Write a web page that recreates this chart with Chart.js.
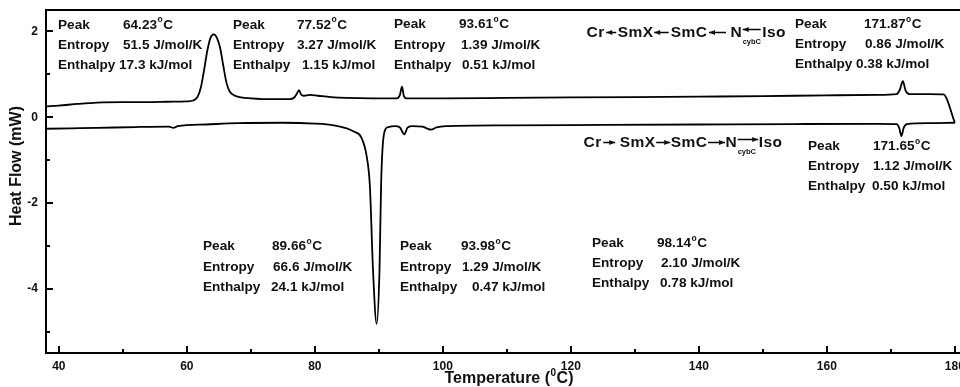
<!DOCTYPE html>
<html>
<head>
<meta charset="utf-8">
<script src="https://cdn.jsdelivr.net/npm/chart.js@4.4.1/dist/chart.umd.min.js"></script>
<style>
  html, body { margin: 0; padding: 0; background: #fff; }
  canvas { display: block; }
</style>
</head>
<body>
<canvas id="dsc" width="960" height="387"></canvas>
<script>
// DSC thermogram: cooling run (exotherms up) and heating run (endotherms down)
const coolingTemp = [38.0, 40.0, 43.0, 46.0, 50.0, 54.0, 57.0, 60.0, 61.0, 61.7, 62.2, 62.7, 63.2, 63.7, 64.23, 64.7, 65.2, 65.7, 66.2, 66.7, 67.3, 68.5, 70.0, 73.0, 76.0, 76.8, 77.2, 77.52, 77.85, 78.3, 79.2, 80.5, 82.5, 85.0, 89.0, 92.8, 93.3, 93.61, 93.9, 94.3, 100, 110, 120, 130, 140, 150, 160, 168, 170.9, 171.4, 171.87, 172.3, 172.9, 176, 178.2, 180];
const coolingFlow = [0.25, 0.27, 0.31, 0.34, 0.35, 0.35, 0.36, 0.37, 0.39, 0.48, 0.70, 1.10, 1.55, 1.85, 1.93, 1.85, 1.62, 1.20, 0.80, 0.60, 0.52, 0.46, 0.44, 0.42, 0.42, 0.46, 0.55, 0.63, 0.53, 0.50, 0.52, 0.50, 0.47, 0.45, 0.44, 0.44, 0.52, 0.71, 0.50, 0.44, 0.44, 0.45, 0.46, 0.47, 0.48, 0.49, 0.51, 0.52, 0.54, 0.64, 0.84, 0.62, 0.54, 0.54, 0.53, -0.13];

const heatingTemp = [38.0, 42, 46, 52, 57.2, 57.9, 58.6, 63, 68, 75, 80, 83, 85, 86, 87.3, 88.1, 88.6, 89.1, 89.66, 90.1, 90.35, 90.6, 91.0, 91.5, 92.5, 93.3, 93.98, 94.5, 95.3, 96.8, 97.5, 98.14, 99, 100.5, 110, 125, 140, 155, 168, 170.9, 171.3, 171.65, 172.0, 172.5, 176, 180];
const heatingFlow = [-0.27, -0.26, -0.25, -0.23, -0.22, -0.25, -0.21, -0.17, -0.14, -0.13, -0.15, -0.19, -0.26, -0.33, -0.48, -0.91, -1.6, -3.6, -4.82, -3.6, -1.6, -0.68, -0.29, -0.23, -0.21, -0.24, -0.40, -0.24, -0.21, -0.22, -0.26, -0.29, -0.24, -0.21, -0.19, -0.18, -0.17, -0.16, -0.155, -0.16, -0.25, -0.44, -0.25, -0.16, -0.14, -0.13];

const tempTicks = [40, 60, 80, 100, 120, 140, 160, 180];
const flowTicks = [-4, -2, 0, 2];

// Transition parameters
const coolPeakTemp = [64.23, 77.52, 93.61, 171.87];
const coolEntropy = ['51.5', '3.27', '1.39', '0.86'];
const coolEnthalpy = ['17.3', '1.15', '0.51', '0.38'];
const heatPeakTemp = [89.66, 93.98, 98.14, 171.65];
const heatEntropy = ['66.6', '1.29', '2.10', '1.12'];
const heatEnthalpy = ['24.1', '0.47', '0.78', '0.50'];
const phases = ['Cr', 'SmX', 'SmC', 'N', 'Iso'];

// Text block placement (pixels): label column x, value column x per row, row centres
const coolBlocks = [
  { lx: 58,  vx: [123, 123, 119], ry: [25, 45.5, 65.5] },
  { lx: 233, vx: [297, 297, 302], ry: [25, 45.5, 65.5] },
  { lx: 394, vx: [459, 461, 462], ry: [24.5, 45, 65] },
  { lx: 795, vx: [864, 865, 856], ry: [24.5, 44.5, 64.5] }
];
const heatBlocks = [
  { lx: 203, vx: [272, 273, 271], ry: [246.5, 267, 287] },
  { lx: 400, vx: [461, 462, 472], ry: [246.5, 267, 287] },
  { lx: 592, vx: [657, 661, 660], ry: [243.5, 263.5, 283.5] },
  { lx: 808, vx: [873, 873, 872], ry: [146.5, 166.5, 186.5] }
];

const FONT = '"Liberation Sans", Arial, Helvetica, sans-serif';
const INK = '#111';

function toPoints(xs, ys) { return xs.map((x, i) => ({ x: x, y: ys[i] })); }

function drawTemp(ctx, x, y, t) {
  const s = t.toFixed(2);
  ctx.font = 'bold 13.6px ' + FONT;
  ctx.fillText(s, x, y);
  const w = ctx.measureText(s).width;
  ctx.font = 'bold 8.5px ' + FONT;
  ctx.fillText('o', x + w + 0.5, y - 5);
  const ow = ctx.measureText('o').width;
  ctx.font = 'bold 13.6px ' + FONT;
  ctx.fillText('C', x + w + ow + 1, y);
}

function drawBlock(ctx, b, t, s, h) {
  ctx.font = 'bold 13.6px ' + FONT;
  ctx.fillText('Peak', b.lx, b.ry[0]);
  ctx.fillText('Entropy', b.lx, b.ry[1]);
  ctx.fillText('Enthalpy', b.lx, b.ry[2]);
  drawTemp(ctx, b.vx[0], b.ry[0], t);
  ctx.font = 'bold 13.6px ' + FONT;
  ctx.fillText(s + ' J/mol/K', b.vx[1], b.ry[1]);
  ctx.fillText(h + ' kJ/mol', b.vx[2], b.ry[2]);
}

function drawArrow(ctx, x0, x1, y, pointLeft) {
  ctx.beginPath();
  ctx.lineWidth = 1.5;
  ctx.moveTo(x0, y);
  ctx.lineTo(x1, y);
  ctx.stroke();
  const tip = pointLeft ? x0 : x1;
  const dir = pointLeft ? 1 : -1;
  ctx.beginPath();
  ctx.moveTo(tip, y);
  ctx.lineTo(tip + dir * 6, y - 2.6);
  ctx.lineTo(tip + dir * 6, y + 2.6);
  ctx.closePath();
  ctx.fill();
}

// connectors: [space after phase, arrow start offset, arrow end offset]
function drawScheme(ctx, x0, y, connectors, pointLeft) {
  let x = x0;
  ctx.letterSpacing = '0.5px';
  phases.forEach((p, i) => {
    ctx.font = 'bold 15.5px ' + FONT;
    ctx.fillText(p, x, y);
    x += ctx.measureText(p).width;
    if (i < phases.length - 1) {
      const c = connectors[i];
      const sub = p === 'N';
      drawArrow(ctx, x + c[1], x + c[2], sub ? y - 3 : y, pointLeft);
      if (sub) {
        ctx.font = 'bold 7.5px ' + FONT;
        ctx.letterSpacing = '0px';
        ctx.fillText('cybC', x + 0.5, y + 9.5);
        ctx.letterSpacing = '0.5px';
      }
      x += c[0];
    }
  });
  ctx.letterSpacing = '0px';
}

const decor = {
  id: 'decor',
  beforeDraw(chart) {
    const ctx = chart.ctx;
    ctx.save();
    ctx.fillStyle = '#fff';
    ctx.fillRect(0, 0, chart.width, chart.height);
    ctx.restore();
  },
  afterDraw(chart) {
    const { ctx, chartArea: a, scales } = chart;
    const xs = scales.x, ys = scales.y;
    ctx.save();
    ctx.strokeStyle = '#000';
    ctx.fillStyle = INK;

    // frame top edge
    ctx.lineWidth = 2;
    ctx.beginPath();
    ctx.moveTo(a.left - 1, a.top);
    ctx.lineTo(a.right, a.top);
    ctx.stroke();

    // inward tick marks, major and minor
    ctx.lineWidth = 2;
    tempTicks.forEach(v => {
      const px = Math.round(xs.getPixelForValue(v));
      ctx.beginPath(); ctx.moveTo(px, a.bottom); ctx.lineTo(px, a.bottom - 7); ctx.stroke();
      const m = v + 10;
      if (m < xs.max) {
        const pm = Math.round(xs.getPixelForValue(m));
        ctx.beginPath(); ctx.moveTo(pm, a.bottom); ctx.lineTo(pm, a.bottom - 4); ctx.stroke();
      }
    });
    flowTicks.forEach(v => {
      const py = Math.round(ys.getPixelForValue(v));
      ctx.beginPath(); ctx.moveTo(a.left, py); ctx.lineTo(a.left + 7, py); ctx.stroke();
      const m = v - 1;
      if (m > ys.min) {
        const pm = Math.round(ys.getPixelForValue(m));
        ctx.beginPath(); ctx.moveTo(a.left, pm); ctx.lineTo(a.left + 4, pm); ctx.stroke();
      }
    });
    const topMinor = flowTicks[flowTicks.length - 1] + 1;
    if (topMinor < ys.max) {
      const pm = Math.round(ys.getPixelForValue(topMinor));
      ctx.beginPath(); ctx.moveTo(a.left, pm); ctx.lineTo(a.left + 4, pm); ctx.stroke();
    }

    // axis titles
    ctx.textBaseline = 'middle';
    ctx.textAlign = 'left';
    ctx.font = 'bold 16px ' + FONT;
    const t1 = 'Temperature (', t3 = 'C)';
    const w1 = ctx.measureText(t1).width, w3 = ctx.measureText(t3).width;
    ctx.font = 'bold 10px ' + FONT;
    const w2 = ctx.measureText('0').width;
    let tx = 509 - (w1 + w2 + w3 + 1) / 2;
    ctx.font = 'bold 16px ' + FONT;
    ctx.fillText(t1, tx, 379);
    ctx.font = 'bold 10px ' + FONT;
    ctx.fillText('0', tx + w1 + 0.5, 373);
    ctx.font = 'bold 16px ' + FONT;
    ctx.fillText(t3, tx + w1 + w2 + 1, 379);

    ctx.save();
    ctx.translate(17, 166);
    ctx.rotate(-Math.PI / 2);
    ctx.textAlign = 'center';
    ctx.fillText('Heat Flow (mW)', 0, 0);
    ctx.restore();

    // transition annotations
    ctx.textAlign = 'left';
    ctx.textBaseline = 'middle';
    coolBlocks.forEach((b, i) => drawBlock(ctx, b, coolPeakTemp[i], coolEntropy[i], coolEnthalpy[i]));
    heatBlocks.forEach((b, i) => drawBlock(ctx, b, heatPeakTemp[i], heatEntropy[i], heatEnthalpy[i]));

    // phase sequences
    drawScheme(ctx, 586.5, 32.5, [[13, 1.5, 11.5], [17, 0.5, 15], [23, 1.5, 18.5], [20, 0.5, 18.5]], true);
    drawScheme(ctx, 583.5, 142.5, [[18, 1.5, 13.5], [15, 0.5, 14.5], [18, 0.5, 17.5], [21.5, 0.5, 21]], false);

    ctx.restore();
  }
};

new Chart(document.getElementById('dsc'), {
  type: 'line',
  data: {
    datasets: [
      {
        label: 'Heating',
        data: toPoints(heatingTemp, heatingFlow),
        borderColor: '#000',
        borderWidth: 1.8,
        pointRadius: 0,
        cubicInterpolationMode: 'monotone',
        fill: false
      },
      {
        label: 'Cooling',
        data: toPoints(coolingTemp, coolingFlow),
        borderColor: '#000',
        borderWidth: 1.8,
        pointRadius: 0,
        cubicInterpolationMode: 'monotone',
        fill: false
      }
    ]
  },
  options: {
    responsive: false,
    animation: false,
    devicePixelRatio: 1,
    layout: { padding: { top: 10, right: 0, left: 0, bottom: 0 } },
    plugins: { legend: { display: false }, tooltip: { enabled: false } },
    scales: {
      x: {
        type: 'linear',
        min: 38,
        max: 180.8,
        grid: { display: false, drawTicks: false },
        border: { display: true, color: '#000', width: 2 },
        afterBuildTicks(scale) { scale.ticks = tempTicks.map(v => ({ value: v })); },
        afterFit(scale) { scale.height = 34; scale.paddingLeft = 0; scale.paddingRight = 0; },
        ticks: {
          padding: 6,
          color: INK,
          maxRotation: 0,
          autoSkip: false,
          font: { family: FONT, size: 12, weight: 'bold' }
        }
      },
      y: {
        type: 'linear',
        min: -5.5,
        max: 2.5,
        grid: { display: false, drawTicks: false },
        border: { display: true, color: '#000', width: 2 },
        afterBuildTicks(scale) { scale.ticks = flowTicks.map(v => ({ value: v })); },
        afterFit(scale) { scale.width = 46; scale.paddingTop = 0; scale.paddingBottom = 0; },
        ticks: {
          padding: 8,
          color: INK,
          font: { family: FONT, size: 12, weight: 'bold' }
        }
      }
    }
  },
  plugins: [decor]
});
</script>
</body>
</html>
